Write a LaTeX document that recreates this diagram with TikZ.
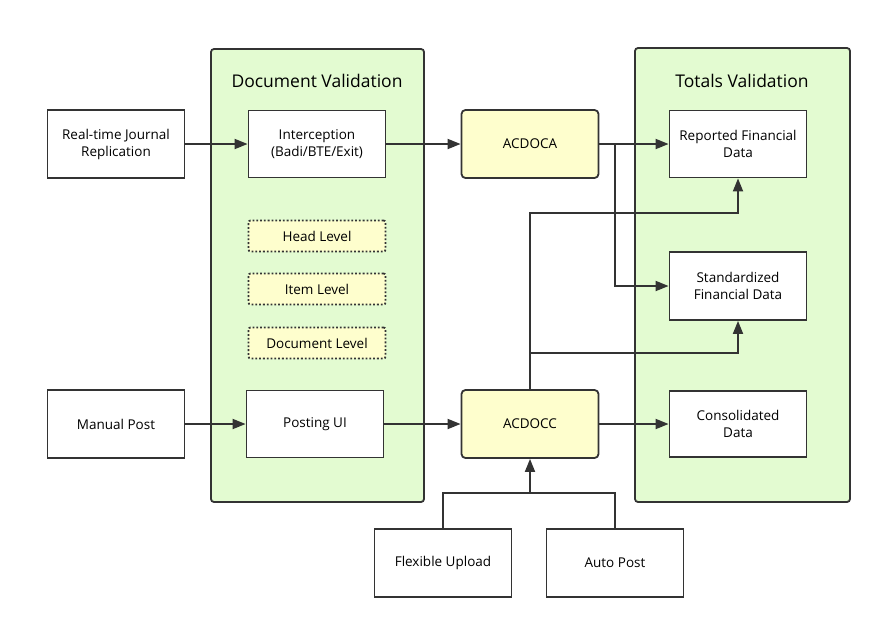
\documentclass[tikz,border=0pt]{standalone}
\usepackage{fontspec}
\setmainfont{Open Sans}
\usetikzlibrary{arrows.meta}

\definecolor{linegray}{HTML}{333333}
\definecolor{groupgreen}{HTML}{E3FBD1}
\definecolor{tableyellow}{HTML}{FEFECD}

\tikzset{
    groupbox/.style={draw=linegray, line width=1.8pt, fill=groupgreen, rounded corners=3pt},
    procbox/.style={draw=linegray, line width=1.8pt, fill=white, minimum width=137pt, minimum height=68pt, align=center, font=\fontsize{13.5}{17}\selectfont},
    tablebox/.style={procbox, fill=tableyellow, rounded corners=4pt},
    levelbox/.style={draw=linegray, line width=1.8pt, dotted, fill=tableyellow, rounded corners=2pt, minimum width=137pt, minimum height=31pt, font=\fontsize{13.5}{17}\selectfont},
    flow/.style={draw=linegray, line width=1.8pt, -{Triangle[length=13pt, width=10pt]}},
    link/.style={draw=linegray, line width=1.8pt}
}

\begin{document}
\begin{tikzpicture}[x=1pt, y=-1pt]
    \useasboundingbox (0,0) rectangle (881,630);

    % validation groups
    \path[groupbox] (211,49) rectangle (424,502);
    \path[groupbox] (635,48) rectangle (850,502);
    \node (docval) at (317,81) {\fontsize{17.5}{20}\selectfont Document Validation};
    \node (totval) at (742,81) {\fontsize{17.5}{20}\selectfont Totals Validation};

    % sources
    \node[procbox] (rtjr) at (116,144) {Real-time Journal\\Replication};
    \node[procbox] (manual) at (116,424) {Manual Post};
    \node[procbox] (flexup) at (443,563) {Flexible Upload};
    \node[procbox] (autopost) at (615,563) {Auto Post};

    % document validation
    \node[procbox, minimum height=67pt] (intercept) at (317,144) {Interception\\(Badi/BTE/Exit)};
    \node[levelbox] (headlvl) at (317,236) {Head Level};
    \node[levelbox] (itemlvl) at (317,289) {Item Level};
    \node[levelbox] (doclvl) at (317,343) {Document Level};
    \node[procbox, minimum height=67pt] (postui) at (315,424) {Posting UI};

    % tables
    \node[tablebox] (acdoca) at (530,144) {ACDOCA};
    \node[tablebox] (acdocc) at (530,424) {ACDOCC};

    % totals validation
    \node[procbox, minimum height=67pt] (reported) at (738,144) {Reported Financial\\Data};
    \node[procbox] (standard) at (738,286) {Standardized\\Financial Data};
    \node[procbox, minimum height=66pt] (consol) at (738,424) {Consolidated\\Data};

    % junctions
    \coordinate (splitA) at (615,144);
    \coordinate (topC) at (530,213);
    \coordinate (midC) at (530,353);
    \coordinate (joinU) at (530,493);

    % connectors
    \draw[flow] (rtjr) -- (intercept);
    \draw[flow] (intercept) -- (acdoca);
    \draw[flow] (acdoca) -- (reported);
    \draw[flow] (splitA) |- (standard.west);
    \draw[flow] (manual) -- (postui);
    \draw[flow] (postui) -- (acdocc);
    \draw[flow] (acdocc) -- (consol);
    \draw[flow] (acdocc.north) -- (topC) -| (reported.south);
    \draw[flow] (midC) -| (standard.south);
    \draw[link] (flexup.north) |- (joinU) -| (autopost.north);
    \draw[flow] (joinU) -- (acdocc.south);
\end{tikzpicture}
\end{document}
